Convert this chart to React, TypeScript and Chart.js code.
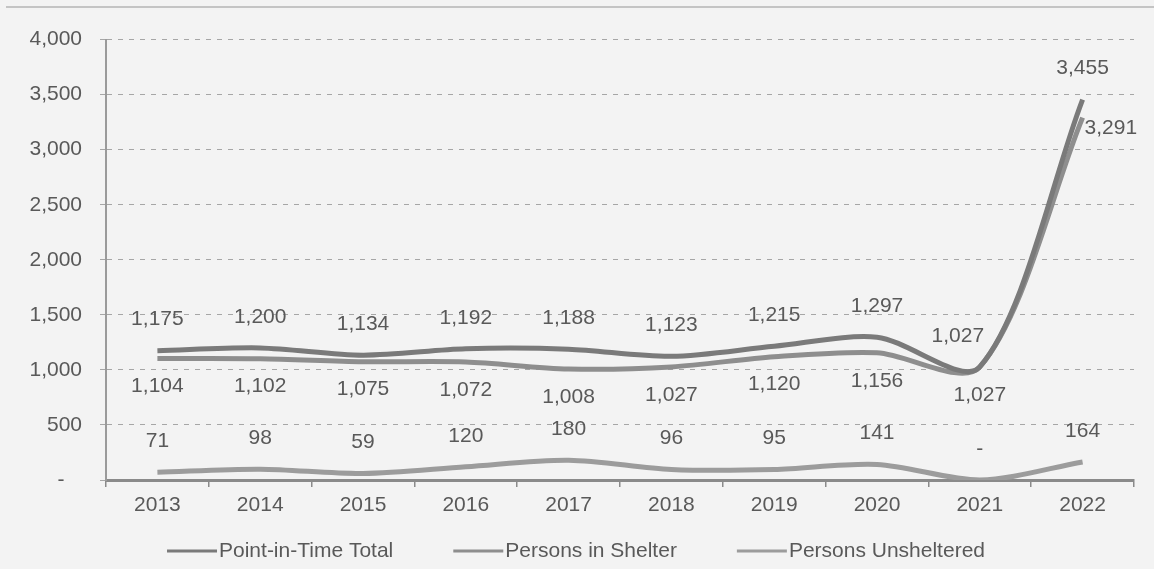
import React, { useEffect, useRef } from "react";
import { Chart, registerables } from "chart.js";

Chart.register(...registerables);

const years = ["2013", "2014", "2015", "2016", "2017", "2018", "2019", "2020", "2021", "2022"];
const totalValues = [1175, 1200, 1134, 1192, 1188, 1123, 1215, 1297, 1027, 3455];
const shelterValues = [1104, 1102, 1075, 1072, 1008, 1027, 1120, 1156, 1027, 3291];
const unshelteredValues = [71, 98, 59, 120, 180, 96, 95, 141, 0, 164];
const seriesNames = ["Point-in-Time Total", "Persons in Shelter", "Persons Unsheltered"];
const yMin = 0;
const yMax = 4000;
const yStep = 500;

const FONT = "'Liberation Sans', Arial, sans-serif";
const TEXT = "#595959";

const fmt = (v: number) => (v === 0 ? "-" : v.toLocaleString("en-US"));

const dataLabelPlugin = {
  id: "dataLabels",
  afterDatasetsDraw(chart: any) {
    const ctx = chart.ctx;
    ctx.save();
    ctx.font = `21px ${FONT}`;
    ctx.fillStyle = TEXT;
    ctx.textBaseline = "middle";
    chart.data.datasets.forEach((ds: any, di: number) => {
      const meta = chart.getDatasetMeta(di);
      meta.data.forEach((pt: any, i: number) => {
        const v = ds.data[i];
        const last = i === ds.data.length - 1;
        let x = pt.x;
        let y = pt.y;
        ctx.textAlign = "center";
        if (di === 0) {
          y -= 31;
          if (i === 8) x -= 22;
        } else if (di === 1) {
          if (last) {
            ctx.textAlign = "left";
            x += 2;
            y += 11;
          } else {
            y += 28;
          }
        } else {
          y -= 31;
        }
        ctx.fillText(fmt(v), x, y);
      });
    });
    ctx.restore();
  },
};

const legendPlugin = {
  id: "customLegend",
  afterDraw(chart: any) {
    const ctx = chart.ctx;
    ctx.save();
    ctx.font = `21px ${FONT}`;
    ctx.textBaseline = "middle";
    const sample = 50;
    const gapText = 2;
    const gapItem = 60;
    const items = chart.data.datasets.map((ds: any) => ({
      label: ds.label,
      color: ds.legendColor,
      w: sample + gapText + ctx.measureText(ds.label).width,
    }));
    const total = items.reduce((s: number, it: any) => s + it.w, 0) + gapItem * (items.length - 1);
    let x = (chart.width - total) / 2 - 4;
    const y = chart.height - 18;
    items.forEach((it: any) => {
      ctx.strokeStyle = it.color;
      ctx.lineWidth = 3;
      ctx.beginPath();
      ctx.moveTo(x, y);
      ctx.lineTo(x + sample, y);
      ctx.stroke();
      ctx.fillStyle = TEXT;
      ctx.textAlign = "left";
      ctx.fillText(it.label, x + sample + gapText, y);
      x += it.w + gapItem;
    });
    ctx.restore();
  },
};

export default function App() {
  const ref = useRef<HTMLCanvasElement | null>(null);

  useEffect(() => {
    if (!ref.current) return;
    const colors = ["#7a7a7a", "#8e8e8e", "#9c9c9c"];
    const values = [totalValues, shelterValues, unshelteredValues];
    const chart = new Chart(ref.current, {
      type: "line",
      data: {
        labels: years,
        datasets: seriesNames.map((name, k) => ({
          label: name,
          data: values[k],
          borderColor: colors[k],
          backgroundColor: colors[k],
          legendColor: colors[k],
          borderWidth: 5,
          pointRadius: 0,
          tension: 0.3,
          fill: false,
        })) as any,
      },
      options: {
        animation: false,
        responsive: true,
        maintainAspectRatio: false,
        layout: { padding: { top: 23, right: 20, bottom: 49, left: 0 } },
        plugins: {
          legend: { display: false },
          tooltip: { enabled: false },
        },
        scales: {
          x: {
            offset: true,
            grid: {
              offset: true,
              drawOnChartArea: false,
              drawTicks: true,
              tickLength: 7,
              color: "#8a8a8a",
              lineWidth: 1.5,
            },
            border: { display: true, color: "#8a8a8a", width: 3 },
            ticks: { font: { family: FONT, size: 21 }, color: TEXT, padding: 6 },
            afterFit: (s: any) => {
              s.height = 40;
            },
          },
          y: {
            min: yMin,
            max: yMax,
            ticks: {
              stepSize: yStep,
              font: { family: FONT, size: 21 },
              color: TEXT,
              padding: 18,
              callback: (v: any) => (Number(v) === 0 ? "-   " : Number(v).toLocaleString("en-US")),
            },
            grid: {
              color: "#a6a6a6",
              lineWidth: 1,
              tickLength: 6,
              drawTicks: true,
            },
            border: { display: true, color: "#9a9a9a", width: 2, dash: [5, 6] },
            afterFit: (s: any) => {
              s.width = 100;
            },
          },
        },
      },
      plugins: [dataLabelPlugin, legendPlugin],
    });
    return () => chart.destroy();
  }, []);

  return (
    <div style={{ position: "fixed", left: 0, top: 0, width: 1154, height: 569, background: "#f3f3f3" }}>
      <div style={{ position: "absolute", left: 6, top: 6, width: 1148, height: 2, background: "#c4c4c4" }} />
      <div style={{ position: "absolute", left: 6, top: 9, width: 1148, height: 560 }}>
        <canvas ref={ref} />
      </div>
    </div>
  );
}
